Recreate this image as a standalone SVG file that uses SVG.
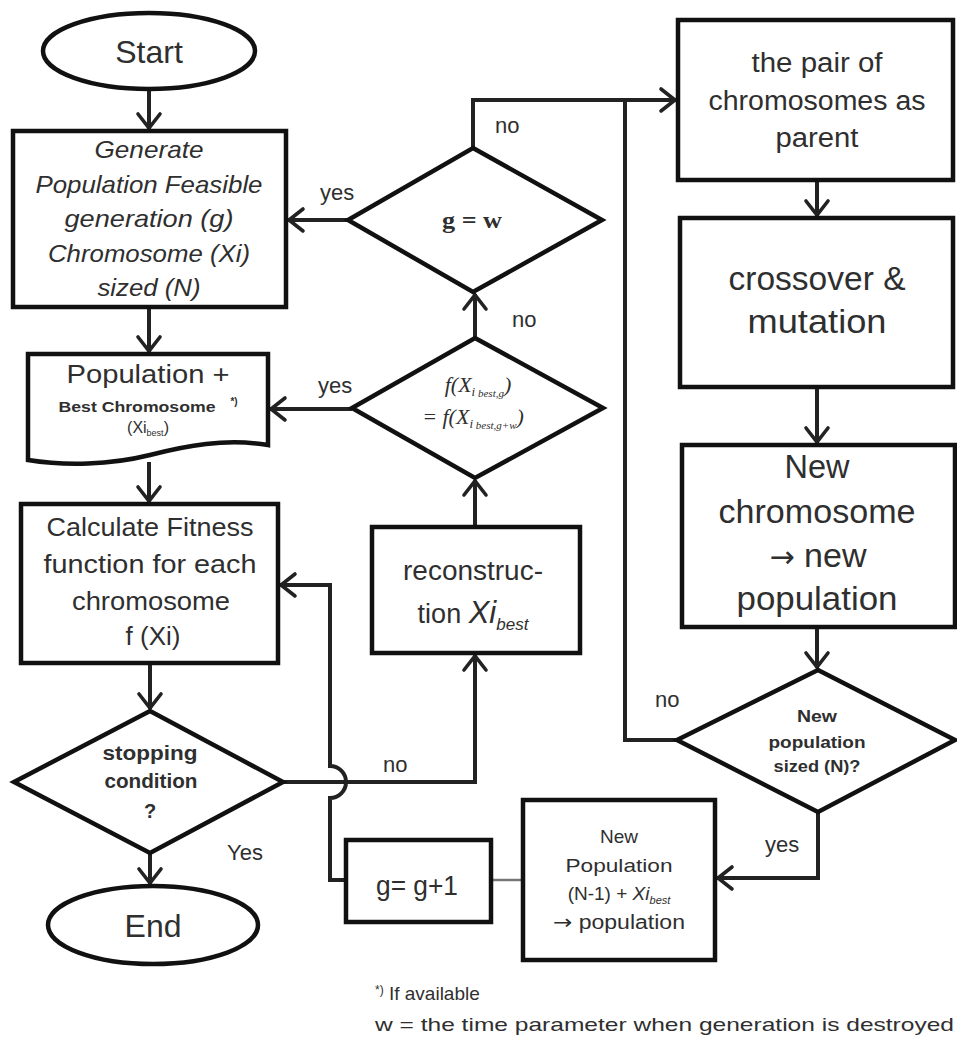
<svg xmlns="http://www.w3.org/2000/svg" width="957" height="1041" viewBox="0 0 957 1041">
<style>
.box{fill:#fff;stroke:#111;stroke-width:4.5}
.t{font-family:"Liberation Sans",Arial,sans-serif;fill:#2f2f2f;text-anchor:middle}
.it{font-style:italic}
.b{font-weight:bold}
.sf{font-family:"Liberation Serif","Times New Roman",serif}
.ar{font-family:"DejaVu Sans",sans-serif}
.lbl{font-family:"Liberation Sans",Arial,sans-serif;fill:#2f2f2f;font-size:22px}
.conn{fill:none;stroke:#222;stroke-width:4}
.thin{fill:none;stroke:#777;stroke-width:2.5}
</style>
<defs>
<marker id="arr" markerUnits="userSpaceOnUse" viewBox="-20 -16 24 32" refX="0" refY="0" markerWidth="24" markerHeight="32" orient="auto">
<path d="M-15,-11 L-1,0 L-15,11" fill="none" stroke="#222" stroke-width="3.6" stroke-linecap="round" stroke-linejoin="miter"/>
</marker>
</defs>
<rect width="957" height="1041" fill="#fff"/>

<g id="connectors">
<line class="conn" x1="149" y1="89" x2="149" y2="129" marker-end="url(#arr)"/>
<line class="conn" x1="149" y1="307" x2="149" y2="352" marker-end="url(#arr)"/>
<line class="conn" x1="149" y1="462" x2="149" y2="502" marker-end="url(#arr)"/>
<line class="conn" x1="150" y1="663" x2="150" y2="709" marker-end="url(#arr)"/>
<line class="conn" x1="150" y1="853" x2="150" y2="884" marker-end="url(#arr)"/>
<path class="conn" d="M283,782 H475 V655" marker-end="url(#arr)"/>
<line class="conn" x1="475" y1="527" x2="475" y2="480" marker-end="url(#arr)"/>
<line class="conn" x1="475" y1="338" x2="475" y2="294" marker-end="url(#arr)"/>
<line class="conn" x1="352" y1="409" x2="270" y2="409" marker-end="url(#arr)"/>
<line class="conn" x1="348" y1="220" x2="288" y2="220" marker-end="url(#arr)"/>
<path class="conn" d="M473,148 V100 H676" marker-end="url(#arr)"/>
<path class="conn" d="M677,740 H625 V100"/>
<line class="conn" x1="817" y1="180" x2="817" y2="216" marker-end="url(#arr)"/>
<line class="conn" x1="817" y1="387" x2="817" y2="443" marker-end="url(#arr)"/>
<line class="conn" x1="817" y1="627" x2="817" y2="668" marker-end="url(#arr)"/>
<path class="conn" d="M818,812 V878 H717" marker-end="url(#arr)"/>
<line class="thin" x1="491" y1="880" x2="523" y2="880"/>
<path class="conn" d="M346,880 H330 V798 A16,16 0 0 0 330,766 V585 H280" marker-end="url(#arr)"/>
<text class="lbl" x="320" y="200">yes</text>
<text class="lbl" x="318" y="393">yes</text>
<text class="lbl" x="495" y="133">no</text>
<text class="lbl" x="512" y="327">no</text>
<text class="lbl" x="383" y="772">no</text>
<text class="lbl" x="227" y="860">Yes</text>
<text class="lbl" x="655" y="707">no</text>
<text class="lbl" x="765" y="852">yes</text>
</g>

<g id="start">
<ellipse class="box" cx="149" cy="51" rx="106" ry="38"/>
<text class="t" x="149" y="63" font-size="32">Start</text>
</g>

<g id="generate">
<rect class="box" x="13" y="131" width="273" height="176"/>
<text class="t it" font-size="24" x="149" y="158" textLength="109" lengthAdjust="spacingAndGlyphs">Generate</text>
<text class="t it" font-size="24" x="149" y="193" textLength="227" lengthAdjust="spacingAndGlyphs">Population Feasible</text>
<text class="t it" font-size="24" x="149" y="227" textLength="169" lengthAdjust="spacingAndGlyphs">generation (g)</text>
<text class="t it" font-size="24" x="149" y="262" textLength="202" lengthAdjust="spacingAndGlyphs">Chromosome (Xi)</text>
<text class="t it" font-size="24" x="149" y="296" textLength="103" lengthAdjust="spacingAndGlyphs">sized (N)</text>
</g>

<g id="population">
<path class="box" d="M28,354 H268 V445 C225,438 185,446 150,455 C110,465 65,466 28,460 Z"/>
<text class="t" font-size="26" x="148" y="383" textLength="163" lengthAdjust="spacingAndGlyphs">Population +</text>
<text class="t b" font-size="15" x="137" y="412" textLength="157" lengthAdjust="spacingAndGlyphs">Best Chromosome</text>
<text class="t b" font-size="10" x="234" y="405">*)</text>
<text class="t" font-size="16" x="148" y="433">(Xi<tspan font-size="9" dy="3">best</tspan><tspan dy="-3">)</tspan></text>
</g>

<g id="fitness">
<rect class="box" x="21" y="504" width="257" height="159"/>
<text class="t" font-size="26" x="150" y="536" textLength="207" lengthAdjust="spacingAndGlyphs">Calculate Fitness</text>
<text class="t" font-size="26" x="150" y="573" textLength="213" lengthAdjust="spacingAndGlyphs">function for each</text>
<text class="t" font-size="26" x="151" y="610" textLength="158" lengthAdjust="spacingAndGlyphs">chromosome</text>
<text class="t" font-size="26" x="153" y="645">f (Xi)</text>
</g>

<g id="stopping">
<polygon class="box" points="150,711 283,782 150,853 14,782"/>
<text class="t b" font-size="20" x="150" y="760" textLength="95" lengthAdjust="spacingAndGlyphs">stopping</text>
<text class="t b" font-size="20" x="151" y="788" textLength="93" lengthAdjust="spacingAndGlyphs">condition</text>
<text class="t b" font-size="20" x="150" y="818">?</text>
</g>

<g id="end">
<ellipse class="box" cx="153" cy="925" rx="105" ry="39"/>
<text class="t" x="153" y="937" font-size="32">End</text>
</g>

<g id="gw">
<polygon class="box" points="473,148 602,220 473,292 348,220"/>
<text class="t sf b" font-size="24" x="472" y="228" textLength="60" lengthAdjust="spacingAndGlyphs">g = w</text>
</g>

<g id="fcompare">
<polygon class="box" points="475,338 603,408 475,478 352,408"/>
<text class="t sf it" font-size="22" x="478" y="392">f(X<tspan font-size="13" dy="4">i</tspan><tspan font-size="11" dy="1"> best,g</tspan><tspan dy="-5">)</tspan></text>
<text class="t sf it" font-size="22" x="473" y="424">= f(X<tspan font-size="13" dy="4">i</tspan><tspan font-size="11" dy="1"> best,g+w</tspan><tspan dy="-5">)</tspan></text>
</g>

<g id="reconstruction">
<rect class="box" x="372" y="527" width="208" height="126"/>
<text class="t" font-size="27" x="473" y="580" textLength="140" lengthAdjust="spacingAndGlyphs">reconstruc-</text>
<text class="t" font-size="27" x="473" y="623"><tspan>tion </tspan><tspan class="it" font-size="31">Xi</tspan><tspan class="it" font-size="17" dy="7">best</tspan></text>
</g>

<g id="pair">
<rect class="box" x="678" y="20" width="275" height="160"/>
<text class="t" font-size="27" x="817" y="72" textLength="131" lengthAdjust="spacingAndGlyphs">the pair of</text>
<text class="t" font-size="27" x="817" y="110" textLength="217" lengthAdjust="spacingAndGlyphs">chromosomes as</text>
<text class="t" font-size="27" x="817" y="147" textLength="83" lengthAdjust="spacingAndGlyphs">parent</text>
</g>

<g id="crossover">
<rect class="box" x="680" y="218" width="273" height="169"/>
<text class="t" font-size="33" x="817" y="290" textLength="177" lengthAdjust="spacingAndGlyphs">crossover &amp;</text>
<text class="t" font-size="33" x="817" y="333" textLength="139" lengthAdjust="spacingAndGlyphs">mutation</text>
</g>

<g id="newchrom">
<rect class="box" x="682" y="445" width="273" height="182"/>
<text class="t" font-size="34" x="817" y="478" textLength="65" lengthAdjust="spacingAndGlyphs">New</text>
<text class="t" font-size="34" x="817" y="523" textLength="197" lengthAdjust="spacingAndGlyphs">chromosome</text>
<text class="t" font-size="34" x="818" y="567"><tspan class="ar" font-size="30">→</tspan> new</text>
<text class="t" font-size="34" x="817" y="610" textLength="161" lengthAdjust="spacingAndGlyphs">population</text>
</g>

<g id="sized">
<polygon class="box" points="818,670 955,740 818,812 677,740"/>
<text class="t b" font-size="16" x="817" y="722" textLength="40" lengthAdjust="spacingAndGlyphs">New</text>
<text class="t b" font-size="16" x="817" y="748" textLength="97" lengthAdjust="spacingAndGlyphs">population</text>
<text class="t b" font-size="16" x="817" y="772" textLength="87" lengthAdjust="spacingAndGlyphs">sized (N)?</text>
</g>

<g id="newpop">
<rect class="box" x="523" y="800" width="192" height="160"/>
<text class="t" font-size="19" x="619" y="843">New</text>
<text class="t" font-size="19" x="619" y="872" textLength="107" lengthAdjust="spacingAndGlyphs">Population</text>
<text class="t" font-size="19" x="619" y="900">(N-1) + <tspan class="it">Xi</tspan><tspan class="it" font-size="11" dy="4">best</tspan></text>
<text class="t" font-size="20" x="619" y="929" textLength="132" lengthAdjust="spacingAndGlyphs"><tspan class="ar" font-size="20">→</tspan> population</text>
</g>

<g id="increment">
<rect class="box" x="346" y="840" width="145" height="82"/>
<text class="t" font-size="28" x="417" y="895" textLength="82" lengthAdjust="spacingAndGlyphs">g= g+1</text>
</g>

<g id="footnote">
<text font-family="Liberation Sans, Arial, sans-serif" fill="#2f2f2f" font-size="19" x="375" y="1000"><tspan font-size="12" dy="-6">*)</tspan><tspan dy="6"> If available</tspan></text>
<text font-family="Liberation Sans, Arial, sans-serif" fill="#2f2f2f" font-size="19" x="375" y="1031" textLength="579" lengthAdjust="spacingAndGlyphs">w = the time parameter when generation is destroyed</text>
</g>
</svg>
